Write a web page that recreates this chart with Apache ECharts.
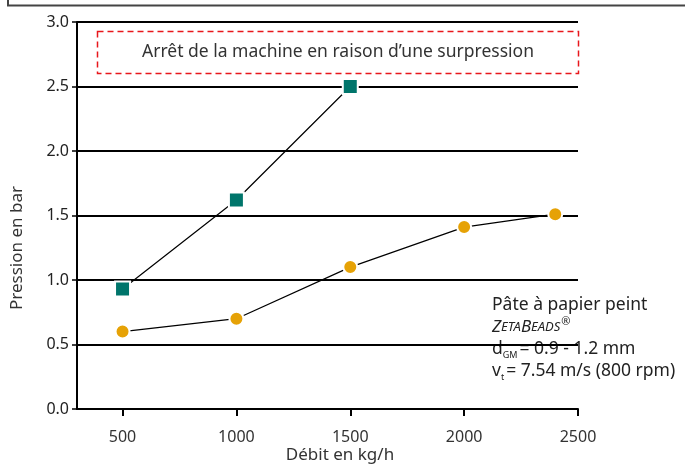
<!DOCTYPE html>
<html>
<head>
<meta charset="utf-8">
<script src="https://cdn.jsdelivr.net/npm/echarts@6/dist/echarts.min.js"></script>
<style>
  html, body { margin: 0; padding: 0; background: #fff; }
  #chart { width: 685px; height: 465px; }
</style>
</head>
<body>
<div id="chart"></div>
<script>
// données
const xTicks = [500, 1000, 1500, 2000, 2500]
const squareX = [500, 1000, 1500]
const squareY = [0.93, 1.62, 2.5]
const circleX = [500, 1000, 1500, 2000, 2400]
const circleY = [0.6, 0.7, 1.1, 1.41, 1.51]

const FONT = 'Noto Sans'
const chart = echarts.init(document.getElementById('chart'))

const toPairs = (xs, ys) => xs.map((x, i) => [x, ys[i]])

const option = {
  animation: false,
  grid: { left: 77, right: 107, top: 22, bottom: 56 },
  textStyle: { fontFamily: FONT },
  xAxis: {
    type: 'value',
    min: 300,
    max: 2500,
    axisLine: { lineStyle: { color: '#000', width: 2 } },
    axisTick: { show: true, customValues: xTicks, length: 7, lineStyle: { color: '#000', width: 2 } },
    axisLabel: { customValues: xTicks, color: '#333', fontSize: 16, margin: 20, fontFamily: FONT, formatter: v => String(v) },
    splitLine: { show: false }
  },
  yAxis: {
    type: 'value',
    min: 0,
    max: 3,
    interval: 0.5,
    axisLine: { show: true, lineStyle: { color: '#000', width: 2 } },
    axisTick: { show: true, length: 5, lineStyle: { color: '#000', width: 1.5 } },
    axisLabel: { color: '#222', fontSize: 16, margin: 8, fontFamily: FONT, formatter: v => v.toFixed(1) },
    splitLine: { show: true, lineStyle: { color: '#000', width: 2 } }
  },
  series: [
    {
      type: 'line',
      data: toPairs(squareX, squareY),
      symbol: 'rect',
      symbolSize: 15,
      lineStyle: { color: '#000', width: 1.2 },
      itemStyle: { color: '#00756b', borderColor: '#fff', borderWidth: 2 },
      z: 3
    },
    {
      type: 'line',
      data: toPairs(circleX, circleY),
      symbol: 'circle',
      symbolSize: 14,
      lineStyle: { color: '#000', width: 1.2 },
      itemStyle: { color: '#e6a206', borderColor: '#fff', borderWidth: 2 },
      z: 3
    }
  ],
  graphic: [
    {
      type: 'polyline',
      shape: { points: [[8, 0], [8, 5.5], [685, 5.5]] },
      style: { stroke: '#444', lineWidth: 2, fill: null }
    },
    {
      type: 'rect',
      shape: { x: 97.5, y: 31.5, width: 481, height: 42 },
      style: { stroke: '#e8161b', lineWidth: 1.5, lineDash: [6, 4], fill: null },
      z: 10
    },
    {
      type: 'text',
      x: 338,
      y: 52,
      style: {
        text: 'Arrêt de la machine en raison d\u2019une surpression',
        fontFamily: FONT, fontSize: 17.5, fill: '#333',
        align: 'center', verticalAlign: 'middle'
      },
      z: 10
    },
    {
      type: 'text',
      x: 17,
      y: 248,
      rotation: Math.PI / 2,
      style: {
        text: 'Pression en bar',
        fontFamily: FONT, fontSize: 17, fill: '#333',
        align: 'center', verticalAlign: 'middle'
      }
    },
    {
      type: 'text',
      x: 340,
      y: 455,
      style: {
        text: 'Débit en kg/h',
        fontFamily: FONT, fontSize: 17, fill: '#333',
        align: 'center', verticalAlign: 'middle'
      }
    },
    {
      type: 'text',
      x: 492,
      y: 294,
      style: {
        text: '{a|Pâte à papier peint}\n{zb|Z}{zs|ETA}{zb|B}{zs|EADS}{sup|®}\n{a|d}{sub|GM}{a|= 0.9 - 1.2 mm}\n{a|v}{sub|t}{a|= 7.54 m/s (800 rpm)}',
        fontFamily: FONT,
        fill: '#222',
        rich: {
          a: { fontFamily: FONT, fontSize: 17.5, lineHeight: 22, fill: '#222' },
          zb: { fontFamily: FONT, fontSize: 17, fontStyle: 'italic', lineHeight: 22, fill: '#222' },
          zs: { fontFamily: FONT, fontSize: 13, fontStyle: 'italic', lineHeight: 22, fill: '#222' },
          sup: { fontFamily: FONT, fontSize: 11, lineHeight: 22, verticalAlign: 'top', padding: [0, 0, 6, 1], fill: '#222' },
          sub: { fontFamily: FONT, fontSize: 9, lineHeight: 22, verticalAlign: 'bottom', padding: [6, 2, 0, 0], fill: '#222' }
        }
      }
    }
  ]
}

chart.setOption(option)
window.addEventListener('resize', () => chart.resize())
</script>
</body>
</html>
